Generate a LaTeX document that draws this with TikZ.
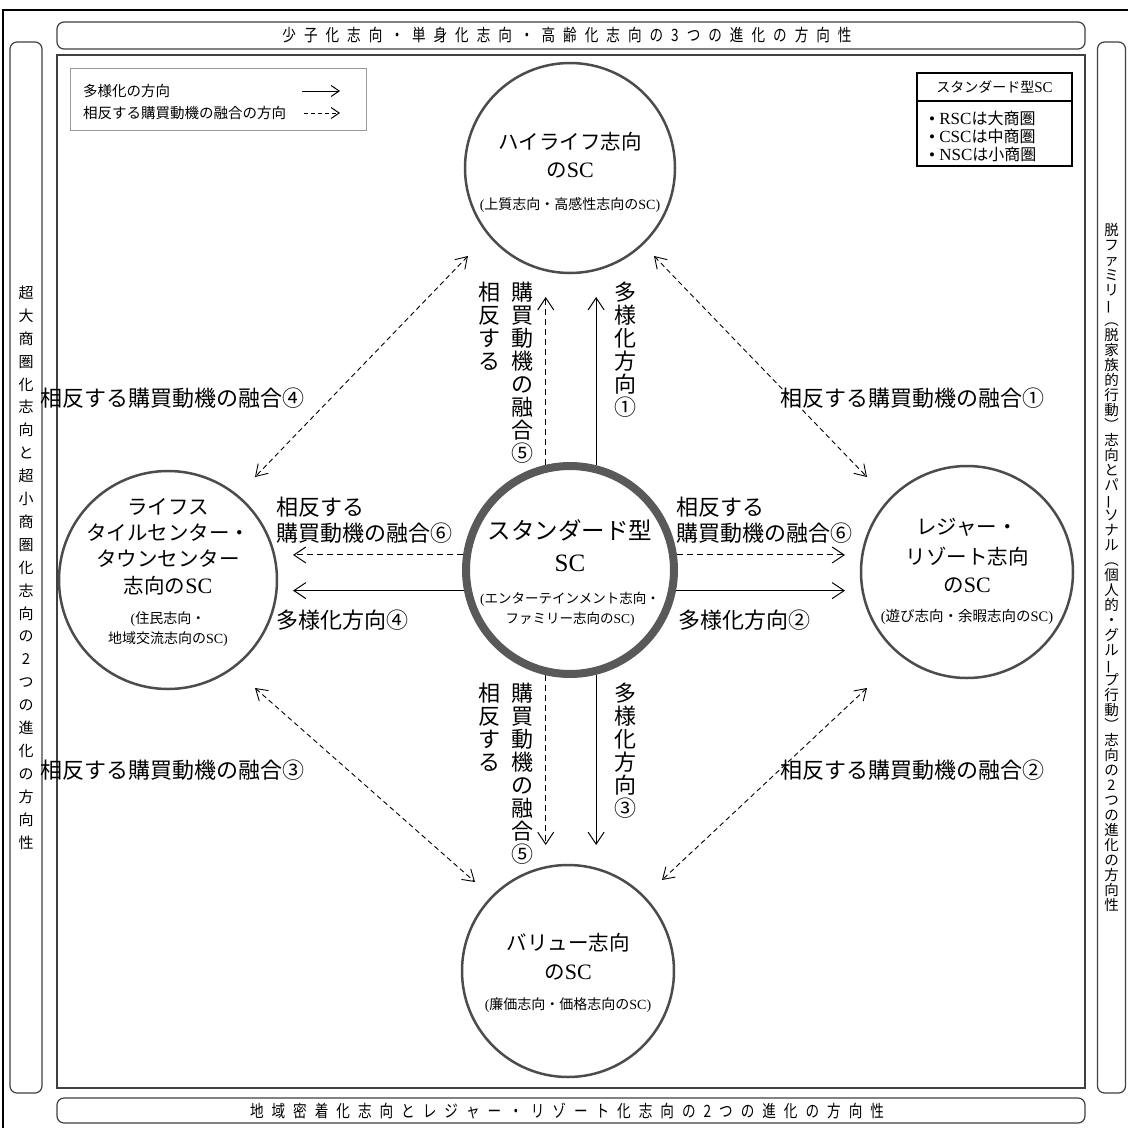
\documentclass[tikz,border=0pt]{standalone}
\usepackage{fontspec}
\setmainfont{Noto Sans CJK JP}
\newfontfamily\lat{Liberation Serif}
\newfontfamily\jpc[FakeStretch=0.8]{Noto Sans CJK JP}
\usetikzlibrary{arrows.meta}
\newcommand\fsz[1]{\fontsize{#1}{#1}\selectfont}
\newcommand\nolsk{\lineskiplimit=-50pt\relax}
\def\spcd#1{\ifx#1\relax\else#1\kern8pt\expandafter\spcd\fi}
\newcommand\vlong{\rotatebox[origin=c]{90}{ー}}
\newcommand\vlpar{︵}
\newcommand\vrpar{︶}
\tikzset{
  circ/.style={circle, draw=black!70, fill=white, line width=2.5pt, minimum size=212pt, inner sep=0pt},
  frm/.style={draw=black!75, line width=1.5pt},
  bar/.style={draw=black!75, line width=1.2pt, rounded corners=7pt, inner sep=0pt},
  big/.style={font=\fsz{20.5}, inner sep=0pt},
  sml/.style={font=\fsz{14}, inner sep=0pt},
  lab/.style={font=\fsz{22}, inner sep=0pt, anchor=west},
  vcol/.style={font={\fontsize{22}{23}\selectfont\nolsk}, align=center, inner sep=0pt, anchor=north},
  solidarr/.style={line width=1pt, -{Straight Barb[length=12pt, width=16pt]}},
  dasharr/.style={solidarr, dash pattern=on 6pt off 4pt},
  dbl/.style={line width=0.9pt, dash pattern=on 5pt off 3.5pt, {Straight Barb[length=11pt,width=14pt]}-{Straight Barb[length=11pt,width=14pt]}},
  legarr/.style={line width=1pt, -{Straight Barb[length=8pt, width=11pt]}},
}
\begin{document}
\begin{tikzpicture}[x=1pt,y=-1pt]
\useasboundingbox (0,0) rectangle (1128,1128);
\fill[white] (0,0) rectangle (1128,1128);
% frames
\draw[line width=2.5pt] (3,10) rectangle (1140,1140);
\draw[frm] (57,55) rectangle (1085,1088);
\node[bar, minimum width=1028pt, minimum height=27pt] (topbar) at (571,35.5)
  {\jpc\fsz{17}\spcd 少子化志向・単身化志向・高齢化志向の3つの進化の方向性\relax};
\node[bar, minimum width=1028pt, minimum height=25pt] (botbar) at (571,1110.5)
  {\jpc\fsz{17}\spcd 地域密着化志向とレジャー・リゾート化志向の2つの進化の方向性\relax};
\node[bar, minimum width=32pt, minimum height=1051pt, align=center,
  font={\fontsize{15}{22.9}\selectfont\nolsk}] (lbar) at (26,567.5)
  {超\\大\\商\\圏\\化\\志\\向\\と\\超\\小\\商\\圏\\化\\志\\向\\の\\2\\つ\\の\\進\\化\\の\\方\\向\\性};
\node[bar, minimum width=28pt, minimum height=1051pt, align=center,
  font={\fontsize{14.5}{15}\selectfont\nolsk}] (rbar) at (1111.5,567.5)
  {脱\\フ\\ァ\\ミ\\リ\\\vlong\\\vlpar\\脱\\家\\族\\的\\行\\動\\\vrpar\\志\\向\\と\\パ\\\vlong\\ソ\\ナ\\ル\\\vlpar\\個\\人\\的\\・\\グ\\ル\\\vlong\\プ\\行\\動\\\vrpar\\志\\向\\の\\2\\つ\\の\\進\\化\\の\\方\\向\\性};

% legends
\node[draw=black!40, line width=1pt, minimum width=296pt, minimum height=62pt, inner sep=0pt] (lg1) at (218,99) {};
\node[font=\fsz{14.5}, inner sep=0pt, anchor=west] (lgt1) at (83,91) {多様化の方向};
\node[font=\fsz{14.5}, inner sep=0pt, anchor=west] (lgt2) at (83,113) {相反する購買動機の融合の方向};
\coordinate (lga) at (302,91); \coordinate (lgb) at (340,91);
\draw[legarr] (lga) -- (lgb);
\coordinate (lgc) at (304,113); \coordinate (lgd) at (340,113);
\draw[legarr, dash pattern=on 4pt off 3pt] (lgc) -- (lgd);

\node[draw=black, line width=1.2pt, minimum width=155pt, minimum height=93pt, inner sep=0pt] (lg2) at (994.5,119.5) {};
\draw[line width=1.2pt] (917,101) -- (1072,101);
\node[font=\fsz{14}, inner sep=0pt] (lgh) at (994.5,87) {スタンダード型{\lat\fsz{15}SC}};
\node[font=\fsz{16}, inner sep=0pt, anchor=west] (lgb1) at (929,118) {{\lat\fsz{17}• RSC}は大商圏};
\node[font=\fsz{16}, inner sep=0pt, anchor=west] (lgb2) at (929,136) {{\lat\fsz{17}• CSC}は中商圏};
\node[font=\fsz{16}, inner sep=0pt, anchor=west] (lgb3) at (929,154) {{\lat\fsz{17}• NSC}は小商圏};

% circles
\node[circ, minimum size=210pt] (T) at (570,168) {};
\node[circ, minimum size=218pt] (L) at (168,580) {};
\node[circ] (R) at (967,572) {};
\node[circ] (B) at (568,971) {};
\node[circ, draw=black!65, line width=8pt, minimum size=208pt] (C) at (570,570) {};

% circle texts
\node[big] (Tt1) at (570,142) {ハイライフ志向};
\node[big] (Tt2) at (570,170) {の{\lat\fsz{22}SC}};
\node[sml] (Tt3) at (570,205) {{\lat(}上質志向・高感性志向の{\lat SC)}};

\node[font=\fsz{23.5}, inner sep=0pt] (Ct1) at (570,530) {スタンダード型};
\node[font=\fsz{25}, inner sep=0pt] (Ct2) at (570,563) {{\lat SC}};
\node[font=\fsz{13.5}, inner sep=0pt] (Ct3) at (570,599) {{\lat(}エンターテインメント志向・};
\node[font=\fsz{13.5}, inner sep=0pt] (Ct4) at (570,619) {ファミリー志向の{\lat SC)}};

\node[big] (Lt1) at (168,507) {ライフス};
\node[big] (Lt2) at (168,533) {タイルセンター・};
\node[big] (Lt3) at (168,559) {タウンセンター};
\node[big] (Lt4) at (168,586) {志向の{\lat\fsz{22}SC}};
\node[sml] (Lt5) at (168,619) {{\lat(}住民志向・};
\node[sml] (Lt6) at (168,639) {地域交流志向の{\lat SC)}};

\node[big] (Rt1) at (967,527) {レジャー・};
\node[big] (Rt2) at (967,557) {リゾート志向};
\node[big] (Rt3) at (967,585) {の{\lat\fsz{22}SC}};
\node[font=\fsz{14.5}, inner sep=0pt] (Rt4) at (967,617) {{\lat(}遊び志向・余暇志向の{\lat SC)}};

\node[big] (Bt1) at (568,943) {バリュー志向};
\node[big] (Bt2) at (568,972) {の{\lat\fsz{22}SC}};
\node[sml] (Bt3) at (568,1005) {{\lat(}廉価志向・価格志向の{\lat SC)}};

% arrows from center
\coordinate (tipU) at (0,297);
\coordinate (tipD) at (0,845);
\coordinate (tipR) at (845,0);
\coordinate (tipL) at (293,0);
\draw[solidarr] (C.76) -- (C.76 |- tipU);
\draw[dasharr] (C.103) -- (C.103 |- tipU);
\draw[solidarr] (C.-76) -- (C.-76 |- tipD);
\draw[dasharr] (C.-103) -- (C.-103 |- tipD);
\draw[dasharr] (C.8) -- (C.8 -| tipR);
\draw[solidarr] (C.-11) -- (C.-11 -| tipR);
\draw[dasharr] (C.172) -- (C.172 -| tipL);
\draw[solidarr] (C.191) -- (C.191 -| tipL);

% diagonal arrows
\coordinate (d1a) at (468,256); \coordinate (d1b) at (255,477);
\coordinate (d2a) at (654,256); \coordinate (d2b) at (867,477);
\coordinate (d3a) at (255,688); \coordinate (d3b) at (475,882);
\coordinate (d4a) at (867,688); \coordinate (d4b) at (662,880);
\draw[dbl] (d1a) -- (d1b);
\draw[dbl] (d2a) -- (d2b);
\draw[dbl] (d3a) -- (d3b);
\draw[dbl] (d4a) -- (d4b);

% diagonal labels
\node[lab] (l4) at (40,398) {相反する購買動機の融合④};
\node[lab] (l1) at (780,398) {相反する購買動機の融合①};
\node[lab] (l3) at (40,770) {相反する購買動機の融合③};
\node[lab] (l2) at (780,770) {相反する購買動機の融合②};

% horizontal labels
\node[lab] (hl1) at (276,507) {相反する};
\node[lab] (hl2) at (276,533) {購買動機の融合⑥};
\node[lab] (hl3) at (276,620) {多様化方向④};
\node[lab] (hr1) at (676,507) {相反する};
\node[lab] (hr2) at (676,533) {購買動機の融合⑥};
\node[lab] (hr3) at (678,620) {多様化方向②};

% vertical labels
\node[vcol] (vu1) at (489,282) {相\\反\\す\\る};
\node[vcol] (vu2) at (522,282) {購\\買\\動\\機\\の\\融\\合\\⑤};
\node[vcol] (vu3) at (625,282) {多\\様\\化\\方\\向\\①};
\node[vcol] (vd1) at (489,683) {相\\反\\す\\る};
\node[vcol] (vd2) at (522,683) {購\\買\\動\\機\\の\\融\\合\\⑤};
\node[vcol] (vd3) at (625,683) {多\\様\\化\\方\\向\\③};
\end{tikzpicture}
\end{document}
